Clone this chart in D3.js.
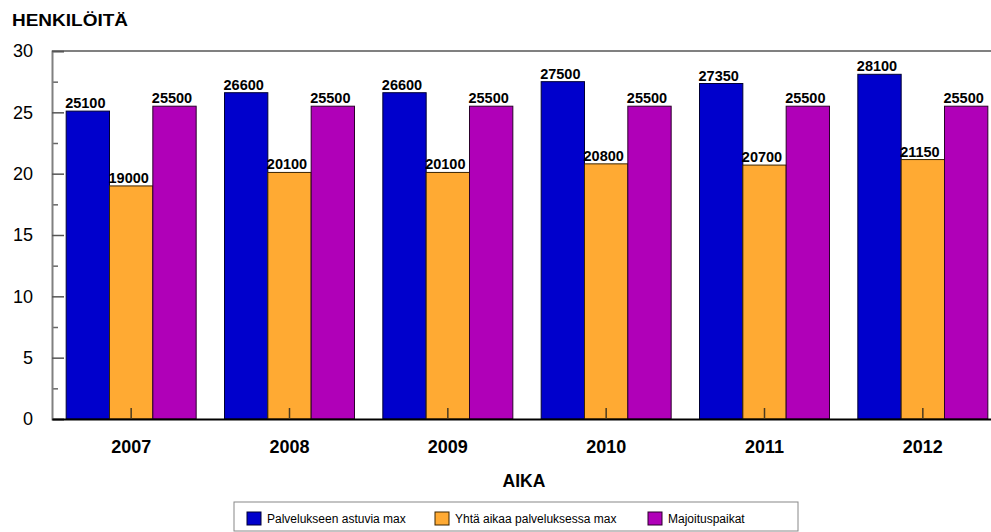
<!DOCTYPE html>
<html>
<head>
<meta charset="utf-8">
<script src="https://cdn.jsdelivr.net/npm/d3@7"></script>
<style>
  html, body { margin: 0; padding: 0; background: #fff; }
  svg { display: block; font-family: "Liberation Sans", Arial, sans-serif; }
</style>
</head>
<body>
<svg id="chart" width="991" height="532"></svg>
<script>
const years = ["2007", "2008", "2009", "2010", "2011", "2012"];
const seriesNames = ["Palvelukseen astuvia max", "Yhtä aikaa palveluksessa max", "Majoituspaikat"];
const palvelukseenAstuvia = [25100, 26600, 26600, 27500, 27350, 28100];
const yhtaAikaa = [19000, 20100, 20100, 20800, 20700, 21150];
const majoituspaikat = [25500, 25500, 25500, 25500, 25500, 25500];
const yTickValues = [0, 5000, 10000, 15000, 20000, 25000, 30000];
const yTickLabels = ["0", "5", "10", "15", "20", "25", "30"];
const yMinorTicks = [2500, 7500, 12500, 17500, 22500, 27500];
const colors = ["#0000cc", "#ffaa33", "#b000b8"];
const strokes = ["#000033", "#3a2400", "#2a002a"];

(function () {
const seriesValues = [palvelukseenAstuvia, yhtaAikaa, majoituspaikat];
const data = years.map((yr, i) => ({ year: yr, values: seriesValues.map((s, k) => ({ key: k, value: s[i] })) }));

const svg = d3.select("#chart");
const mLeft = 52, mRight = 1002, mTop = 51, mBottom = 419;

const x = d3.scaleBand().domain(years).range([mLeft, mRight]).paddingInner(0.179).paddingOuter(0.0895);
const x1 = d3.scaleBand().domain([0, 1, 2]).range([0, x.bandwidth()]);
const y = d3.scaleLinear().domain([0, 30000]).range([mBottom, mTop]);

// bars
const groups = svg.append("g").selectAll("g").data(data).join("g")
  .attr("transform", d => `translate(${x(d.year)},0)`);
groups.selectAll("rect").data(d => d.values).join("rect")
  .attr("x", d => x1(d.key))
  .attr("y", d => y(d.value))
  .attr("width", x1.bandwidth())
  .attr("height", d => y(0) - y(d.value))
  .attr("fill", d => colors[d.key])
  .attr("stroke", d => strokes[d.key])
  .attr("stroke-width", 1);
groups.selectAll("text").data(d => d.values).join("text")
  .attr("x", d => x1(d.key) - 1)
  .attr("y", d => y(d.value) - 3)
  .attr("font-size", "14.5px")
  .attr("font-weight", "bold")
  .attr("fill", "#000")
  .text(d => d.value);

// top border
svg.append("line").attr("x1", mLeft).attr("x2", 991).attr("y1", mTop).attr("y2", mTop)
  .attr("stroke", "#808080").attr("stroke-width", 2);

// y minor ticks
const yMinor = svg.append("g").attr("transform", `translate(${mLeft},0)`)
  .call(d3.axisLeft(y).tickValues(yMinorTicks).tickSize(-6).tickFormat(""));
yMinor.select(".domain").remove();
yMinor.selectAll("line").attr("stroke", "#666").attr("stroke-width", 1.5);

// y major axis
const yAxis = svg.append("g").attr("transform", `translate(${mLeft},0)`)
  .call(d3.axisLeft(y).tickValues(yTickValues).tickSize(-12).tickPadding(19)
    .tickFormat((d, i) => yTickLabels[i]));
yAxis.select(".domain").attr("stroke", "#808080").attr("stroke-width", 2);
yAxis.selectAll(".tick line").attr("stroke", "#555").attr("stroke-width", 1.5);
yAxis.selectAll("text").attr("font-size", "18px").attr("fill", "#000")
  .attr("font-family", "Liberation Sans, Arial, sans-serif");

// x axis
const xAxis = svg.append("g").attr("transform", `translate(0,${mBottom})`)
  .call(d3.axisBottom(x).tickSize(-11).tickPadding(21).tickSizeOuter(0));
xAxis.select(".domain").attr("stroke", "#000").attr("stroke-width", 2);
xAxis.selectAll(".tick line").attr("stroke", "#4a3a20").attr("stroke-width", 1.5);
xAxis.selectAll("text").attr("font-size", "18px").attr("font-weight", "bold").attr("fill", "#000")
  .attr("font-family", "Liberation Sans, Arial, sans-serif");

// titles
svg.append("text").attr("x", 12).attr("y", 26).attr("font-size", "17px").attr("font-weight", "bold")
  .attr("textLength", 116).attr("lengthAdjust", "spacingAndGlyphs")
  .text("HENKILÖITÄ");
svg.append("text").attr("x", 524).attr("y", 487).attr("text-anchor", "middle")
  .attr("font-size", "17.5px").attr("font-weight", "bold").text("AIKA");

// legend
const legend = svg.append("g");
legend.append("rect").attr("x", 234).attr("y", 502).attr("width", 564).attr("height", 29)
  .attr("fill", "#fff").attr("stroke", "#888").attr("stroke-width", 1);
const legendX = [247, 435, 648];
seriesNames.forEach((name, k) => {
  legend.append("rect").attr("x", legendX[k]).attr("y", 512).attr("width", 14).attr("height", 13)
    .attr("fill", colors[k]).attr("stroke", strokes[k]).attr("stroke-width", 1);
  legend.append("text").attr("x", legendX[k] + 20).attr("y", 523).attr("font-size", "12px")
    .attr("fill", "#000").text(name);
});
})();
</script>
</body>
</html>
